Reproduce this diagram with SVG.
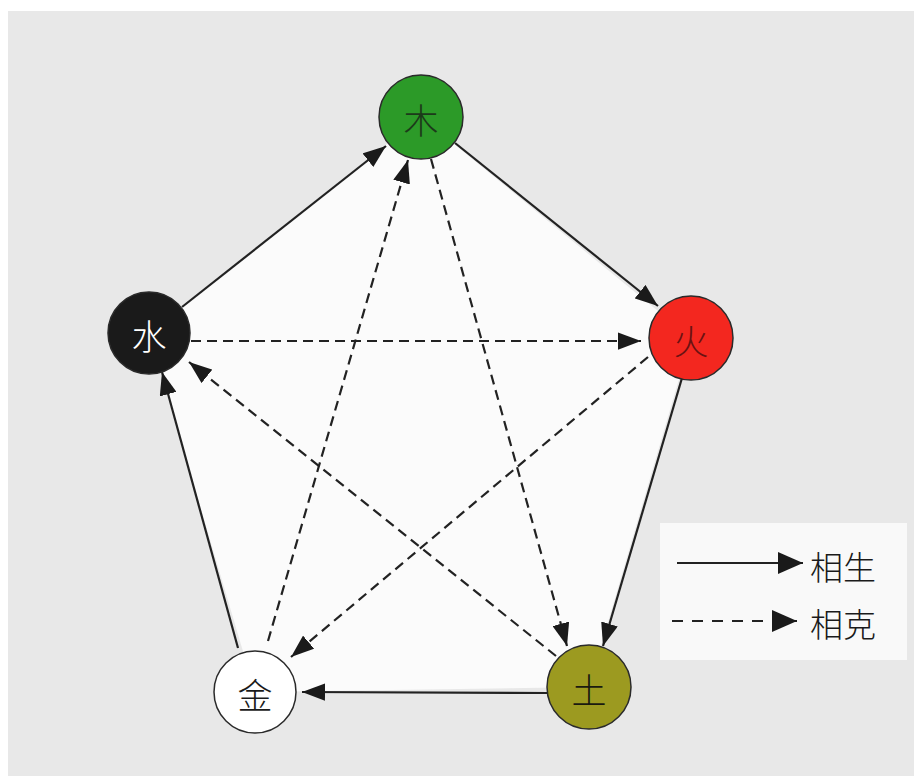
<svg xmlns="http://www.w3.org/2000/svg" width="914" height="776" viewBox="0 0 914 776">
  <style>
    .node { stroke: #2a2a2a; stroke-width: 1.5; }
    .label { font-family: "Noto Sans CJK SC", "Noto Sans", sans-serif; font-size: 35px; font-weight: 300; text-anchor: middle; dominant-baseline: central; }
    .solid { stroke: #222222; stroke-width: 2.2; fill: none; marker-end: url(#arrow); }
    .dashed { stroke: #222222; stroke-width: 2.2; fill: none; stroke-dasharray: 10 6; marker-end: url(#arrow); }
    .legend-solid { stroke: #222222; stroke-width: 2; fill: none; marker-end: url(#arrowL); }
    .legend-dashed { stroke: #222222; stroke-width: 2; fill: none; stroke-dasharray: 11 9; marker-end: url(#arrowL); }
    .legend-text { font-family: "Noto Sans CJK SC", "Noto Sans", sans-serif; font-size: 33px; font-weight: 300; fill: #1a1a1a; dominant-baseline: central; }
  </style>
  <defs>
    <marker id="arrow" viewBox="0 0 12 9" refX="12" refY="4.5" markerWidth="23" markerHeight="17.25" markerUnits="userSpaceOnUse" orient="auto">
      <path d="M0,0 L12,4.5 L0,9 Z" fill="#1a1a1a"/>
    </marker>
    <marker id="arrowL" viewBox="0 0 10 10" refX="10" refY="5" markerWidth="25" markerHeight="22" markerUnits="userSpaceOnUse" orient="auto" preserveAspectRatio="none">
      <path d="M0,0 L10,5 L0,10 Z" fill="#1a1a1a"/>
    </marker>
  </defs>
  <rect x="0" y="0" width="914" height="776" fill="#ffffff"/>
  <rect x="8" y="11" width="906" height="765" fill="#e8e8e8"/>
  <polygon points="421,117 691,338 589,687 255,692 149,333" fill="#fbfbfb"/>

  <g id="legend">
    <rect x="660" y="523" width="247" height="137" fill="#f9f9f9"/>
    <line class="legend-solid" x1="677" y1="563" x2="803" y2="563"/>
    <text class="legend-text" x="810" y="566">相生</text>
    <line class="legend-dashed" x1="672" y1="621" x2="797" y2="621"/>
    <text class="legend-text" x="810" y="623">相克</text>
  </g>

  <g id="connectors">
    <line class="solid" x1="182" y1="307" x2="386" y2="146"/>
    <line class="solid" x1="455" y1="143" x2="658" y2="306"/>
    <line class="solid" x1="682" y1="378" x2="603" y2="646"/>
    <line class="solid" x1="548" y1="693" x2="302" y2="692"/>
    <line class="solid" x1="238" y1="648" x2="162" y2="372"/>
    <line class="dashed" x1="191" y1="341" x2="641" y2="341"/>
    <line class="dashed" x1="648" y1="357" x2="291" y2="657"/>
    <line class="dashed" x1="268" y1="641" x2="408" y2="160"/>
    <line class="dashed" x1="431" y1="159" x2="567" y2="646"/>
    <line class="dashed" x1="556" y1="656" x2="189" y2="362"/>
  </g>

  <g id="node-mu">
    <circle class="node" cx="421" cy="117" r="42" fill="#2c9a28"/>
    <text class="label" x="421" y="118" fill="#1c3a1a">木</text>
  </g>
  <g id="node-huo">
    <circle class="node" cx="691" cy="338" r="42" fill="#f3271f"/>
    <text class="label" x="691" y="339" fill="#6a1212">火</text>
  </g>
  <g id="node-tu">
    <circle class="node" cx="589" cy="687" r="42" fill="#9c9a20"/>
    <text class="label" x="589" y="688" fill="#1a1a10">土</text>
  </g>
  <g id="node-jin">
    <circle class="node" cx="255" cy="692" r="41" fill="#ffffff"/>
    <text class="label" x="255" y="693" fill="#1a1a1a">金</text>
  </g>
  <g id="node-shui">
    <circle class="node" cx="149" cy="333" r="41" fill="#1a1a1a"/>
    <text class="label" x="149" y="334" fill="#ffffff">水</text>
  </g>
</svg>
